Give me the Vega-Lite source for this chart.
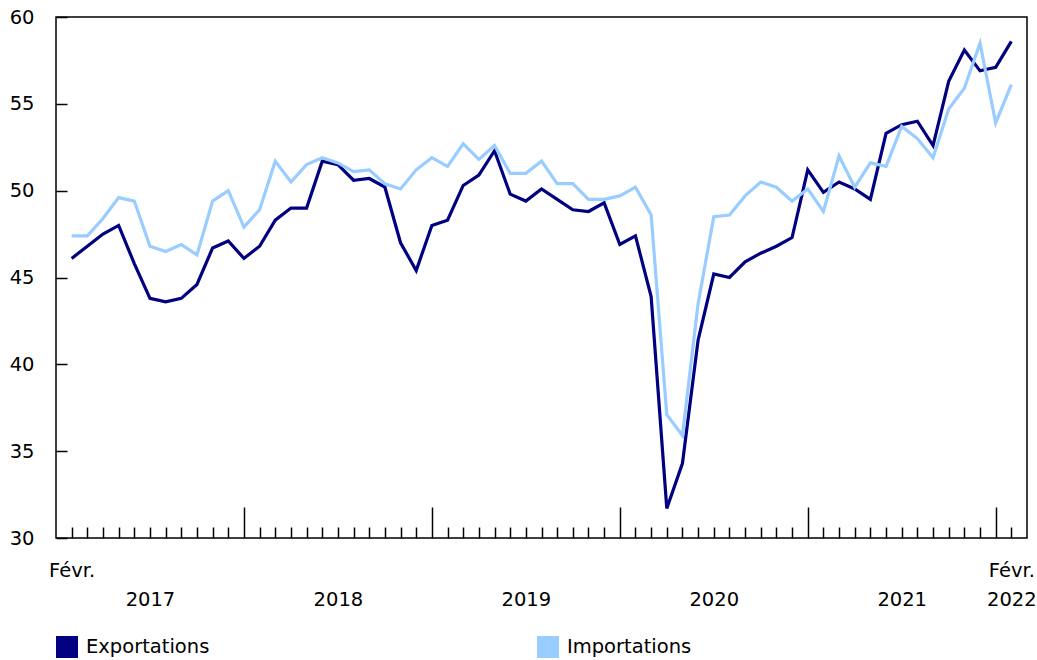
{
  "$schema": "https://vega.github.io/schema/vega-lite/v6.json",
  "autosize": {"type": "none"},
  "padding": {"left": 56, "top": 17, "right": 10, "bottom": 122},
  "width": 971,
  "height": 521,
  "config": {
    "font": "DejaVu Sans",
    "view": {"stroke": "#000000", "strokeWidth": 1.5},
    "axis": {"labelFont": "DejaVu Sans", "labelFontSize": 19.5, "labelColor": "#000000", "tickColor": "#000000", "tickWidth": 1.5, "domain": false, "grid": false, "title": null}
  },
  "data": {"values": [
    {"m":1,"Exportations":46.1,"Importations":47.4},
    {"m":2,"Exportations":46.8,"Importations":47.4},
    {"m":3,"Exportations":47.5,"Importations":48.4},
    {"m":4,"Exportations":48.0,"Importations":49.6},
    {"m":5,"Exportations":45.8,"Importations":49.4},
    {"m":6,"Exportations":43.8,"Importations":46.8},
    {"m":7,"Exportations":43.6,"Importations":46.5},
    {"m":8,"Exportations":43.8,"Importations":46.9},
    {"m":9,"Exportations":44.6,"Importations":46.3},
    {"m":10,"Exportations":46.7,"Importations":49.4},
    {"m":11,"Exportations":47.1,"Importations":50.0},
    {"m":12,"Exportations":46.1,"Importations":47.9},
    {"m":13,"Exportations":46.8,"Importations":48.9},
    {"m":14,"Exportations":48.3,"Importations":51.7},
    {"m":15,"Exportations":49.0,"Importations":50.5},
    {"m":16,"Exportations":49.0,"Importations":51.5},
    {"m":17,"Exportations":51.7,"Importations":51.9},
    {"m":18,"Exportations":51.5,"Importations":51.6},
    {"m":19,"Exportations":50.6,"Importations":51.1},
    {"m":20,"Exportations":50.7,"Importations":51.2},
    {"m":21,"Exportations":50.2,"Importations":50.4},
    {"m":22,"Exportations":47.0,"Importations":50.1},
    {"m":23,"Exportations":45.4,"Importations":51.2},
    {"m":24,"Exportations":48.0,"Importations":51.9},
    {"m":25,"Exportations":48.3,"Importations":51.4},
    {"m":26,"Exportations":50.3,"Importations":52.7},
    {"m":27,"Exportations":50.9,"Importations":51.8},
    {"m":28,"Exportations":52.3,"Importations":52.6},
    {"m":29,"Exportations":49.8,"Importations":51.0},
    {"m":30,"Exportations":49.4,"Importations":51.0},
    {"m":31,"Exportations":50.1,"Importations":51.7},
    {"m":32,"Exportations":49.5,"Importations":50.4},
    {"m":33,"Exportations":48.9,"Importations":50.4},
    {"m":34,"Exportations":48.8,"Importations":49.5},
    {"m":35,"Exportations":49.3,"Importations":49.5},
    {"m":36,"Exportations":46.9,"Importations":49.7},
    {"m":37,"Exportations":47.4,"Importations":50.2},
    {"m":38,"Exportations":43.9,"Importations":48.6},
    {"m":39,"Exportations":31.7,"Importations":37.1},
    {"m":40,"Exportations":34.3,"Importations":35.9},
    {"m":41,"Exportations":41.4,"Importations":43.5},
    {"m":42,"Exportations":45.2,"Importations":48.5},
    {"m":43,"Exportations":45.0,"Importations":48.6},
    {"m":44,"Exportations":45.9,"Importations":49.7},
    {"m":45,"Exportations":46.4,"Importations":50.5},
    {"m":46,"Exportations":46.8,"Importations":50.2},
    {"m":47,"Exportations":47.3,"Importations":49.4},
    {"m":48,"Exportations":51.2,"Importations":50.1},
    {"m":49,"Exportations":49.9,"Importations":48.8},
    {"m":50,"Exportations":50.5,"Importations":52.0},
    {"m":51,"Exportations":50.1,"Importations":50.2},
    {"m":52,"Exportations":49.5,"Importations":51.6},
    {"m":53,"Exportations":53.3,"Importations":51.4},
    {"m":54,"Exportations":53.8,"Importations":53.7},
    {"m":55,"Exportations":54.0,"Importations":53.0},
    {"m":56,"Exportations":52.6,"Importations":51.9},
    {"m":57,"Exportations":56.3,"Importations":54.7},
    {"m":58,"Exportations":58.1,"Importations":55.9},
    {"m":59,"Exportations":56.9,"Importations":58.5},
    {"m":60,"Exportations":57.1,"Importations":53.9},
    {"m":61,"Exportations":58.6,"Importations":56.1}
  ]},
  "transform": [{"fold": ["Exportations", "Importations"], "as": ["serie", "valeur"]}],
  "mark": {"type": "line", "strokeWidth": 3.2, "strokeJoin": "miter"},
  "encoding": {
    "x": {
      "field": "m", "type": "quantitative",
      "scale": {"domain": [0, 62], "nice": false, "zero": false},
      "axis": {
        "values": [1,2,3,4,5,6,7,8,9,10,11,12,13,14,15,16,17,18,19,20,21,22,23,24,25,26,27,28,29,30,31,32,33,34,35,36,37,38,39,40,41,42,43,44,45,46,47,48,49,50,51,52,53,54,55,56,57,58,59,60,61],
        "tickSize": {"condition": {"test": "datum.value % 12 == 0", "value": -31}, "value": -11},
        "labelExpr": "datum.value == 1 ? 'Févr.' : datum.value == 61 ? ['Févr.', '2022'] : (datum.value % 12 == 6 ? '' + (2017 + floor(datum.value / 12)) : '')",
        "labelPadding": {"condition": {"test": "datum.value % 12 == 6", "value": 63}, "value": 34},
        "labelLineHeight": 29,
        "labelOverlap": false,
        "labelFlush": false,
        "labelBound": false
      }
    },
    "y": {
      "field": "valeur", "type": "quantitative",
      "scale": {"domain": [30, 60], "nice": false, "zero": false},
      "axis": {"values": [30, 35, 40, 45, 50, 55, 60], "tickSize": -11, "labelPadding": 33}
    },
    "color": {
      "field": "serie", "type": "nominal",
      "scale": {"domain": ["Exportations", "Importations"], "range": ["#000080", "#99ccff"]},
      "legend": {
        "orient": "none", "legendX": 0, "legendY": 619, "direction": "horizontal",
        "title": null, "symbolType": "square", "symbolSize": 400,
        "symbolStrokeColor": "#000000", "symbolStrokeWidth": 2,
        "labelFont": "DejaVu Sans", "labelFontSize": 19.5, "labelColor": "#000000",
        "labelOffset": 8, "columnPadding": 324, "labelLimit": 300,
        "encode": {"symbols": {
          "enter": {"fill": {"scale": "color", "field": "value"}, "stroke": {"value": "#000000"}, "strokeWidth": {"value": 2}, "fillOpacity": {"value": 1}, "strokeOpacity": {"value": 1}},
          "update": {"fill": {"scale": "color", "field": "value"}, "stroke": {"value": "#000000"}, "strokeWidth": {"value": 2}, "fillOpacity": {"value": 1}, "strokeOpacity": {"value": 1}}
        }}
      }
    }
  }
}
